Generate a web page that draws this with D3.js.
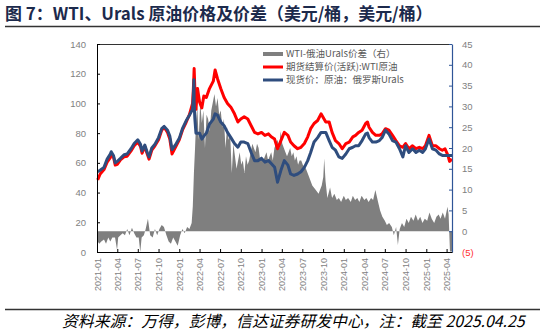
<!DOCTYPE html>
<html><head><meta charset="utf-8">
<script src="https://cdn.jsdelivr.net/npm/d3@7"></script>
<style>body{margin:0;background:#fff} svg{display:block}</style>
</head><body>
<svg id="c" width="545" height="334"></svg>
<script>
// ---------- DATA ----------
const lineDates = ["2021-01-04","2021-01-15","2021-02-01","2021-02-15","2021-03-01","2021-03-05","2021-03-15","2021-03-23","2021-04-01","2021-04-15","2021-05-01","2021-05-15","2021-06-01","2021-06-15","2021-07-01","2021-07-13","2021-07-20","2021-08-01","2021-08-12","2021-08-20","2021-09-01","2021-09-15","2021-10-01","2021-10-15","2021-10-26","2021-11-10","2021-11-20","2021-11-30","2021-12-15","2022-01-01","2022-01-15","2022-02-01","2022-02-15","2022-03-01","2022-03-04","2022-03-07","2022-03-08","2022-03-11","2022-03-16","2022-03-23","2022-04-01","2022-04-11","2022-04-20","2022-05-01","2022-05-15","2022-06-01","2022-06-09","2022-06-20","2022-07-04","2022-07-19","2022-08-03","2022-08-18","2022-09-03","2022-09-18","2022-10-01","2022-10-16","2022-11-01","2022-11-16","2022-12-01","2022-12-16","2023-01-01","2023-01-16","2023-02-01","2023-02-13","2023-02-28","2023-03-13","2023-03-28","2023-04-12","2023-04-28","2023-05-10","2023-05-25","2023-06-10","2023-06-25","2023-07-10","2023-07-25","2023-08-07","2023-08-22","2023-09-07","2023-09-22","2023-10-13","2023-10-28","2023-11-10","2023-11-25","2023-12-10","2023-12-25","2024-01-10","2024-01-25","2024-02-10","2024-02-22","2024-03-07","2024-03-22","2024-04-07","2024-04-15","2024-04-22","2024-05-07","2024-05-22","2024-06-07","2024-06-19","2024-07-04","2024-07-19","2024-08-04","2024-08-19","2024-09-04","2024-09-19","2024-10-01","2024-10-16","2024-11-01","2024-11-16","2024-12-01","2024-12-16","2024-12-28","2025-01-13","2025-01-28","2025-02-13","2025-02-28","2025-03-13","2025-03-25","2025-04-07","2025-04-14","2025-04-25"];
const wtiValues = [48.5,52.5,55.5,60.5,63.5,66,64,58.5,59,62,64,64.5,68,71.5,74,71,66.5,71,66,62.5,68.5,71.5,75.5,82,84,80.5,76,66,70.5,75.5,82,87.5,92.5,100,108,119,123.5,110,96,110,101,97,105,104,110,115,122.5,116.5,110,104,100,97.5,93,87.5,89.5,91,89.5,85,80.5,79.5,80.5,78.5,79.5,77.5,76,69.5,75,80.5,78.5,74,71.5,69.5,70.5,73,77.5,83,86.5,88.5,93,87.5,87.5,80.5,75,73,69.5,73,74,77.5,78.5,80.5,82,86.5,87.5,84,80.5,78.5,78.5,79.5,83,82,78.5,75,71.5,70.5,73,69.5,71.5,69.5,70.5,69.5,71.5,78.5,71.5,71.5,69.5,68.5,69.5,65,61,62.5];
const uralsValues = [54,55,57,62.5,66,67.5,65,60,61,63,65.5,66,69.5,73,75.5,72.5,68,72,67,64,70,72.5,77,83,84.5,82,78,69,72,76.5,83,88.5,92,96,104,116,100,90,80,80,80,76,78,80,86,89.5,93,92,87.5,85,80.5,77,73,70.5,74,74,73,67,61.5,61.5,63,60.5,61.5,59.5,57,47,55,61.5,58.5,52.5,51.5,52.5,54,57,61.5,67,74,77,80.5,80.5,75,70.5,68.5,64,63,66,69.5,70.5,71.5,71.5,75,79.5,80,77,74,74,75,77,82,79.5,75,74,69.5,64,71.5,67,69.5,67,68.5,67,69.5,76,69.5,68.5,66,65,65,65,65,65];

const spreadDates = ["2021-01-04","2021-01-11","2021-01-20","2021-02-01","2021-02-10","2021-02-20","2021-03-01","2021-03-10","2021-03-22","2021-03-31","2021-04-05","2021-04-15","2021-04-25","2021-05-05","2021-05-15","2021-05-25","2021-06-05","2021-06-15","2021-06-25","2021-07-05","2021-07-12","2021-07-18","2021-07-28","2021-08-05","2021-08-15","2021-08-25","2021-09-05","2021-09-15","2021-09-25","2021-10-05","2021-10-15","2021-10-25","2021-11-05","2021-11-15","2021-11-25","2021-12-05","2021-12-15","2021-12-25","2022-01-05","2022-01-15","2022-01-25","2022-02-05","2022-02-15","2022-02-25","2022-03-02","2022-03-07","2022-03-12","2022-03-17","2022-03-22","2022-03-28","2022-04-04","2022-04-11","2022-04-18","2022-04-25","2022-05-02","2022-05-09","2022-05-16","2022-05-23","2022-05-30","2022-06-06","2022-06-13","2022-06-20","2022-06-27","2022-07-04","2022-07-11","2022-07-18","2022-07-25","2022-08-01","2022-08-08","2022-08-15","2022-08-22","2022-08-29","2022-09-05","2022-09-12","2022-09-19","2022-09-26","2022-10-03","2022-10-10","2022-10-17","2022-10-24","2022-10-31","2022-11-07","2022-11-14","2022-11-21","2022-11-28","2022-12-05","2022-12-12","2022-12-19","2022-12-26","2023-01-02","2023-01-09","2023-01-16","2023-01-23","2023-01-30","2023-02-06","2023-02-13","2023-02-20","2023-02-27","2023-03-06","2023-03-13","2023-03-20","2023-03-27","2023-04-03","2023-04-10","2023-04-17","2023-04-24","2023-05-01","2023-05-08","2023-05-15","2023-05-22","2023-05-29","2023-06-05","2023-06-12","2023-06-19","2023-06-26","2023-07-03","2023-07-17","2023-07-31","2023-08-14","2023-08-28","2023-09-11","2023-09-25","2023-10-02","2023-10-06","2023-10-12","2023-10-20","2023-11-01","2023-11-10","2023-11-20","2023-12-01","2023-12-10","2023-12-20","2024-01-01","2024-01-10","2024-01-20","2024-02-01","2024-02-10","2024-02-20","2024-03-01","2024-03-10","2024-03-20","2024-04-01","2024-04-10","2024-04-20","2024-05-01","2024-05-10","2024-05-20","2024-06-01","2024-06-10","2024-06-20","2024-07-01","2024-07-10","2024-07-20","2024-08-01","2024-08-10","2024-08-20","2024-08-28","2024-09-05","2024-09-15","2024-09-25","2024-10-05","2024-10-15","2024-10-25","2024-11-05","2024-11-15","2024-11-25","2024-12-05","2024-12-15","2024-12-25","2025-01-05","2025-01-15","2025-01-25","2025-02-05","2025-02-15","2025-02-25","2025-03-05","2025-03-15","2025-03-25","2025-04-05","2025-04-10","2025-04-16","2025-04-25"];
const spreadValues = [-2.5,-3,-2.5,-2,-3,-1.5,-2.5,-1.5,-1.5,-4.5,-1.5,-1,-0.5,-1,0.5,-1,0.8,-0.5,-1.5,-1.5,-5,-1.5,-1,0.5,3,-1,-1.5,0.5,-1,0.5,1.5,1,-1,-2.5,-3,-1.5,-2.5,-3.5,-1,0.5,-0.5,1,0.5,2,6,14,20,27,30,22,31,26,29,20,28,27,24,29,31,33,30,32,28,29,25,27,20,25,22,23,14,21,18,15,17,19,16,17,14,18,16,17,19,21,20,19,21,20,17,18,17,18,19,17,18,19,17,20,21,22,20,24,21,20,19,18,19,20,18,19,17,18,16,17,17,16,15,13,11,10,9,11,13,17.5,12,8,10.5,8,9,7.5,8,7,8.5,7.5,8,7,8.5,7.5,8,7,8.5,7.5,8,7,8,7.5,9.9,7,5,3.5,2.5,1.5,2,1,-1,1,-3.3,0.5,2,1,3,2,3.5,2.5,4,2.5,3.5,2,3,2.5,4.5,3,2,3.5,4,3,4.5,3,5.9,4,-4.9,-4.9];

const leftTicks = [0,20,40,60,80,100,120,140];
const rightTicks = [-5,0,5,10,15,20,25,30,35,40,45];
const titleText = "图 7：WTI、Urals 原油价格及价差（美元/桶，美元/桶）";
const legendLabels = ["WTI-俄油Urals价差（右）","期货结算价(活跃):WTI原油","现货价：原油：俄罗斯Urals"];
const sourceText = "资料来源：万得，彭博，信达证券研发中心，注：截至 2025.04.25";

// ---------- CHART ----------
const svg = d3.select("#c");
const parse = d3.timeParse("%Y-%m-%d");
const P = {l:97, r:452, t:44, b:252};
const x = d3.scaleTime().domain([parse("2021-01-01"), parse("2025-04-25")]).range([P.l, P.r]);
const yL = d3.scaleLinear().domain([0,140]).range([P.b, P.t]);
const yR = d3.scaleLinear().domain([-5,45]).range([P.b, P.t]);

const AX_FONT = "'Liberation Sans', Arial, sans-serif";
const CJK = "'Noto Sans CJK SC', 'Liberation Sans', sans-serif";

// title
const title = svg.append("text").attr("x",5).attr("y",20)
  .attr("font-family", CJK).attr("font-weight","bold").attr("font-size",16)
  .attr("fill","#1c2a4c").text(titleText);
{ const w = title.node().getComputedTextLength(); title.attr("font-size", 16*428/w); }
svg.append("line").attr("x1",5).attr("x2",540).attr("y1",26.5).attr("y2",26.5)
  .attr("stroke","#333").attr("stroke-width",1.3);

// spread area
const spread = spreadDates.map((d,i)=>({d:parse(d), v:spreadValues[i]}));
svg.append("path").datum(spread)
  .attr("fill","#7f7f7f")
  .attr("d", d3.area().x(p=>x(p.d)).y0(yR(0)).y1(p=>yR(p.v)));

// lines
const lineData = lineDates.map((d,i)=>({d:parse(d), w:wtiValues[i], u:uralsValues[i]}));
svg.append("path").datum(lineData).attr("fill","none").attr("stroke","#ff0000")
  .attr("stroke-width",3).attr("stroke-linejoin","round")
  .attr("d", d3.line().x(p=>x(p.d)).y(p=>yL(p.w)));
svg.append("path").datum(lineData).attr("fill","none").attr("stroke","#2f4d7e")
  .attr("stroke-width",3).attr("stroke-linejoin","round")
  .attr("d", d3.line().x(p=>x(p.d)).y(p=>yL(p.u)));

// top border
svg.append("line").attr("x1",P.l).attr("x2",P.r).attr("y1",P.t+0.5).attr("y2",P.t+0.5)
  .attr("stroke","#333").attr("stroke-width",1);

// left axis
const gL = svg.append("g").attr("transform",`translate(${P.l},0)`)
  .call(d3.axisLeft(yL).tickValues(leftTicks).tickSizeInner(-3).tickSizeOuter(0).tickPadding(11));
gL.select(".domain").attr("stroke","#000");
gL.selectAll(".tick line").attr("stroke","#000");
gL.selectAll("text").attr("font-family",AX_FONT).attr("font-size",9.5).attr("fill","#7f7f7f");

// right axis
const gR = svg.append("g").attr("transform",`translate(${P.r},0)`)
  .call(d3.axisRight(yR).tickValues(rightTicks).tickSizeInner(-3).tickSizeOuter(0).tickPadding(10)
    .tickFormat(d=> d<0 ? `(${Math.abs(d)})` : d));
gR.select(".domain").attr("stroke","#2f5597").attr("stroke-width",1.2);
gR.selectAll(".tick line").attr("stroke","#2f5597");
gR.selectAll("text").attr("font-family",AX_FONT).attr("font-size",9.5)
  .attr("fill", d=> d<0 ? "#ff3030" : "#7f7f7f");

// bottom axis
const xTicks = d3.timeMonth.every(3).range(parse("2021-01-01"), parse("2025-04-02"));
const gB = svg.append("g").attr("transform",`translate(0,${P.b})`)
  .call(d3.axisBottom(x).tickValues(xTicks).tickSizeInner(-3).tickSizeOuter(0)
    .tickFormat(d3.timeFormat("%Y-%m")));
gB.select(".domain").attr("stroke","#000");
gB.selectAll(".tick line").attr("stroke","#000");
gB.selectAll("text").attr("font-family",AX_FONT).attr("font-size",9).attr("fill","#7f7f7f")
  .attr("transform","rotate(-90)").attr("x",-6).attr("y",0).attr("dy","0.35em")
  .attr("text-anchor","end");

// legend
const lg = svg.append("g");
const rows = [54, 67, 80];
lg.append("rect").attr("x",263).attr("y",rows[0]-2).attr("width",20).attr("height",4).attr("fill","#7f7f7f");
lg.append("line").attr("x1",263).attr("x2",283).attr("y1",rows[1]).attr("y2",rows[1]).attr("stroke","#ff0000").attr("stroke-width",3);
lg.append("line").attr("x1",263).attr("x2",283).attr("y1",rows[2]).attr("y2",rows[2]).attr("stroke","#2f4d7e").attr("stroke-width",3);
legendLabels.forEach((t,i)=>{
  lg.append("text").attr("x",286).attr("y",rows[i]).attr("dy","0.35em")
    .attr("font-family",CJK).attr("font-size",9.5).attr("fill","#595959").text(t);
});

// footer
svg.append("line").attr("x1",5).attr("x2",540).attr("y1",309.5).attr("y2",309.5)
  .attr("stroke","#333").attr("stroke-width",1.3);
const src = svg.append("text").attr("x",62).attr("y",327)
  .attr("font-family",CJK).attr("font-style","italic").attr("font-size",15)
  .attr("fill","#000").text(sourceText);
{ const w = src.node().getComputedTextLength(); src.attr("font-size", 15*463/w); }
</script>
</body></html>
